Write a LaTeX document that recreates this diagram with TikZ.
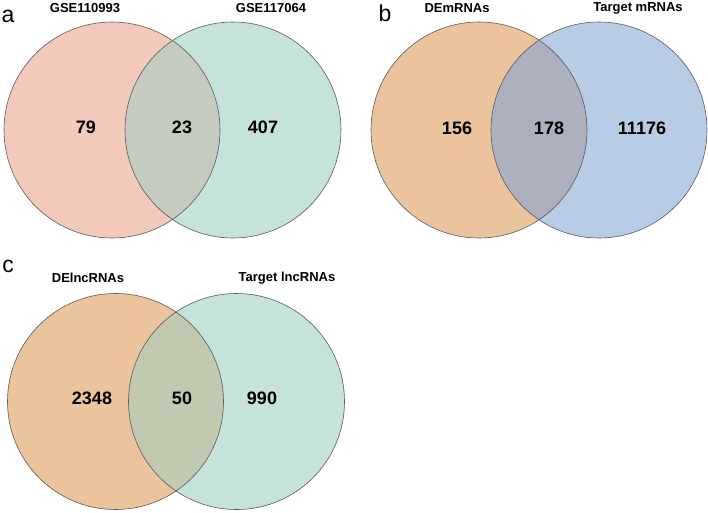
\documentclass[tikz,border=0pt]{standalone}
\usepackage{fontspec}
\setmainfont{Liberation Sans}
\begin{document}
\begin{tikzpicture}[x=1pt,y=-1pt,
  ring/.style={draw=black!65,line width=0.6pt},
  head/.style={font=\bfseries\fontsize{13}{15}\selectfont},
  num/.style={font=\bfseries\fontsize{18}{20}\selectfont},
  plet/.style={font=\fontsize{23}{25}\selectfont}]
\definecolor{pinkA}{HTML}{F3C9BC}
\definecolor{tealA}{HTML}{C5E3DA}
\definecolor{ovA}{HTML}{C5CBBE}
\definecolor{tanB}{HTML}{EBC49D}
\definecolor{blueB}{HTML}{B8CDE5}
\definecolor{ovB}{HTML}{ADB0BE}
\definecolor{ovC}{HTML}{C1C9B0}
\useasboundingbox (0,0) rectangle (708,512);
\fill[white] (0,0) rectangle (708,512);
% panel a
\fill[pinkA] (112,130) circle (108);
\fill[tealA] (233,130) circle (108);
\begin{scope}\clip (112,130) circle (108); \fill[ovA] (233,130) circle (108);\end{scope}
\draw[ring] (112,130) circle (108);
\draw[ring] (233,130) circle (108);
\node[plet] (la) at (8,16) {a};
\node[head] (ha1) at (85,8) {GSE110993};
\node[head] (ha2) at (271,8) {GSE117064};
\node[num] (na1) at (86,127) {79};
\node[num] (na2) at (182,127) {23};
\node[num] (na3) at (263,127) {407};
% panel b
\fill[tanB] (479,130) circle (108);
\fill[blueB] (599,130) circle (108);
\begin{scope}\clip (479,130) circle (108); \fill[ovB] (599,130) circle (108);\end{scope}
\draw[ring] (479,130) circle (108);
\draw[ring] (599,130) circle (108);
\node[plet] (lb) at (385,13) {b};
\node[head] (hb1) at (457,8) {DEmRNAs};
\node[head] (hb2) at (638,8) {Target mRNAs};
\node[num] (nb1) at (457,128) {156};
\node[num] (nb2) at (549,128) {178};
\node[num] (nb3) at (642,128) {11176};
% panel c
\fill[tanB] (115.5,401.5) circle (108);
\fill[tealA] (236.5,401.5) circle (108);
\begin{scope}\clip (115.5,401.5) circle (108); \fill[ovC] (236.5,401.5) circle (108);\end{scope}
\draw[ring] (115.5,401.5) circle (108);
\draw[ring] (236.5,401.5) circle (108);
\node[plet] (lc) at (8,266) {c};
\node[head] (hc1) at (88,278) {DElncRNAs};
\node[head] (hc2) at (287,278) {Target lncRNAs};
\node[num] (nc1) at (92,398) {2348};
\node[num] (nc2) at (182,398) {50};
\node[num] (nc3) at (262,398) {990};
\end{tikzpicture}
\end{document}
